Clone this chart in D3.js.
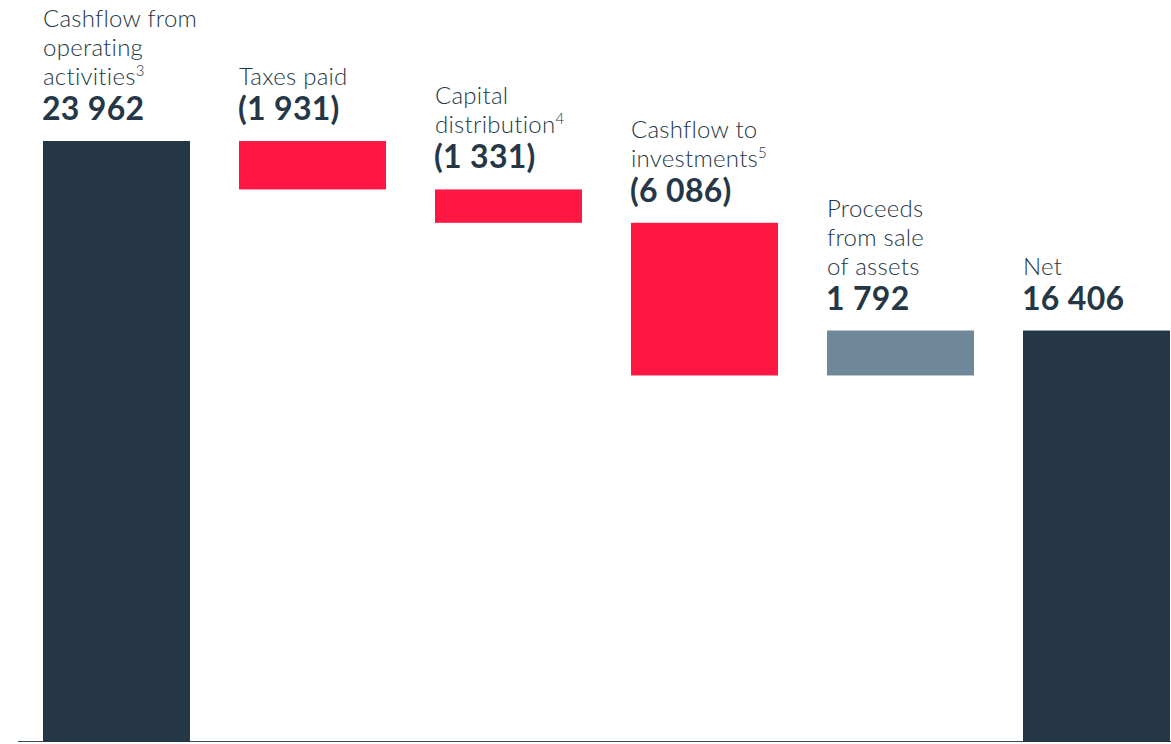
<!DOCTYPE html>
<html>
<head>
<meta charset="utf-8">
<script src="https://cdn.jsdelivr.net/npm/d3@7"></script>
<style>
  body { margin: 0; background: #fff; }
  svg { display: block; }
  .lbl { font-family: Lato, "Open Sans", sans-serif; font-weight: 300; font-size: 24px; letter-spacing: 0.25px; fill: #253746; }
  .val { font-family: Lato, "Open Sans", sans-serif; font-weight: 700; font-size: 32px; letter-spacing: 0.3px; fill: #253746; }
</style>
</head>
<body>
<div id="chart"></div>
<script>
// waterfall data
var categories = ["operating", "taxes", "capital", "investments", "proceeds", "net"];
var labelLines = [
  ["Cashflow from", "operating", "activities"],
  ["Taxes paid"],
  ["Capital", "distribution"],
  ["Cashflow to", "investments"],
  ["Proceeds", "from sale", "of assets"],
  ["Net"]
];
var footnotes = ["3", "", "4", "5", "", ""];
var values = [23962, -1931, -1331, -6086, 1792, 16406];
var kinds = ["total", "neg", "neg", "neg", "pos", "total"];

var width = 1171,
    height = 744;

var colors = { total: "#253746", neg: "#ff1744", pos: "#6e8799" };

var svg = d3.select("#chart").append("svg")
    .attr("width", width)
    .attr("height", height);

// running totals for each step
var running = 0;
var bars = categories.map(function(c, i) {
  var v = values[i], lo, hi;
  if (kinds[i] == "total") {
    lo = 0; hi = v; running = v;
  } else {
    var next = running + v;
    lo = Math.min(running, next); hi = Math.max(running, next);
    running = next;
  }
  return { key: c, value: v, kind: kinds[i], lo: lo, hi: hi, lines: labelLines[i], note: footnotes[i] };
});

var x = d3.scaleBand()
    .domain(categories)
    .range([43, 1170])
    .paddingInner(0.25)
    .paddingOuter(0);

var y = d3.scaleLinear()
    .domain([0, 23962])
    .range([742, 141]);

var fmt = function(v) {
  var s = d3.format(",")(Math.abs(v)).replace(/,/g, " ");
  return v < 0 ? "(" + s + ")" : s;
};

// baseline
svg.append("line")
    .attr("x1", 18).attr("x2", width)
    .attr("y1", 741.5).attr("y2", 741.5)
    .attr("stroke", "#3a4a58")
    .attr("stroke-width", 1.2);

svg.selectAll("rect.bar")
    .data(bars).enter().append("rect")
      .attr("class", "bar")
      .attr("x", function(d) { return x(d.key); })
      .attr("y", function(d) { return y(d.hi); })
      .attr("width", x.bandwidth())
      .attr("height", function(d) { return y(d.lo) - y(d.hi); })
      .attr("fill", function(d) { return colors[d.kind]; });

var g = svg.selectAll("g.label")
    .data(bars).enter().append("g")
      .attr("class", "label")
      .attr("transform", function(d) { return "translate(" + x(d.key) + "," + (y(d.hi) - 21) + ")"; });

g.append("text")
    .attr("class", "val")
    .attr("x", -1)
    .text(function(d) { return fmt(d.value); });

g.each(function(d) {
  var sel = d3.select(this);
  var n = d.lines.length;
  d.lines.forEach(function(line, j) {
    var t = sel.append("text")
        .attr("class", "lbl")
        .attr("y", -35 - (n - 1 - j) * 29);
    t.append("tspan").text(line);
    if (j == n - 1 && d.note) {
      t.append("tspan")
          .attr("dy", -9)
          .attr("font-size", "15px")
          .text(d.note);
    }
  });
});
</script>
</body>
</html>
